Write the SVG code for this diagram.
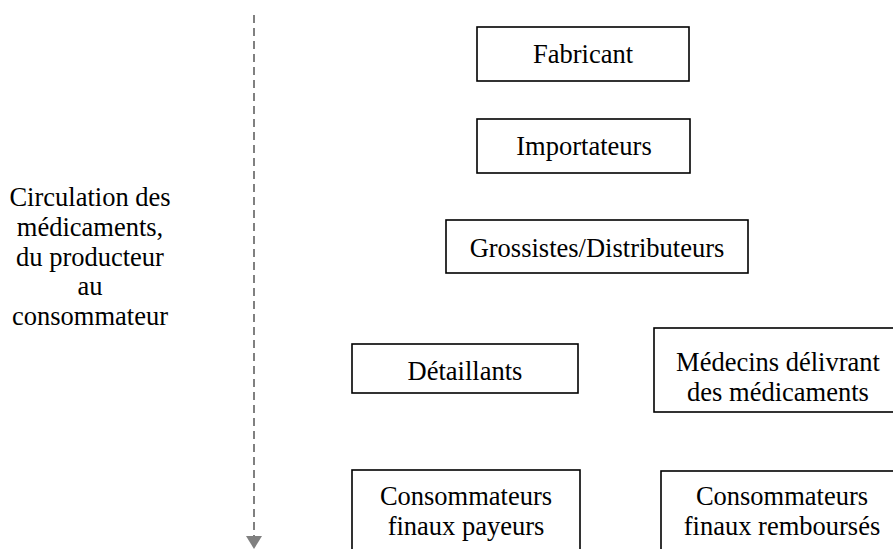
<svg xmlns="http://www.w3.org/2000/svg" width="893" height="549" viewBox="0 0 893 549">
<style>
text { font-family: "Liberation Serif", "Times New Roman", serif; font-size: 26.5px; fill: #000; text-anchor: middle; }
.box { fill: #fff; stroke: #000; stroke-width: 1.6; }
.flow { stroke: #808080; stroke-width: 2; stroke-dasharray: 8 5; fill: none; }
</style>
<rect width="893" height="549" fill="#fff"/>
<g id="connectors">
<line class="flow" x1="254" y1="15" x2="254" y2="537"/>
<polygon points="246,536 262,536 254,549" fill="#808080"/>
</g>
<g id="label-flow">
<text x="90" y="206">Circulation des</text>
<text x="90" y="236">médicaments,</text>
<text x="90" y="266">du producteur</text>
<text x="90" y="295">au</text>
<text x="90" y="325">consommateur</text>
</g>
<g id="fabricant">
<rect class="box" x="477" y="27" width="212" height="54"/>
<text x="583" y="63">Fabricant</text>
</g>
<g id="importateurs">
<rect class="box" x="477" y="119" width="213" height="54"/>
<text x="584" y="155">Importateurs</text>
</g>
<g id="grossistes">
<rect class="box" x="446" y="220" width="302" height="53"/>
<text x="597" y="257">Grossistes/Distributeurs</text>
</g>
<g id="detaillants">
<rect class="box" x="352" y="344" width="226" height="49"/>
<text x="465" y="380">Détaillants</text>
</g>
<g id="medecins">
<rect class="box" x="654" y="328" width="248" height="84"/>
<text x="778" y="371">Médecins délivrant</text>
<text x="778" y="401">des médicaments</text>
</g>
<g id="consommateurs-payeurs">
<rect class="box" x="352" y="470" width="228" height="100"/>
<text x="466" y="505">Consommateurs</text>
<text x="466" y="535">finaux payeurs</text>
</g>
<g id="consommateurs-rembourses">
<rect class="box" x="661" y="471" width="250" height="100"/>
<text x="782" y="505">Consommateurs</text>
<text x="782" y="535">finaux remboursés</text>
</g>
</svg>
